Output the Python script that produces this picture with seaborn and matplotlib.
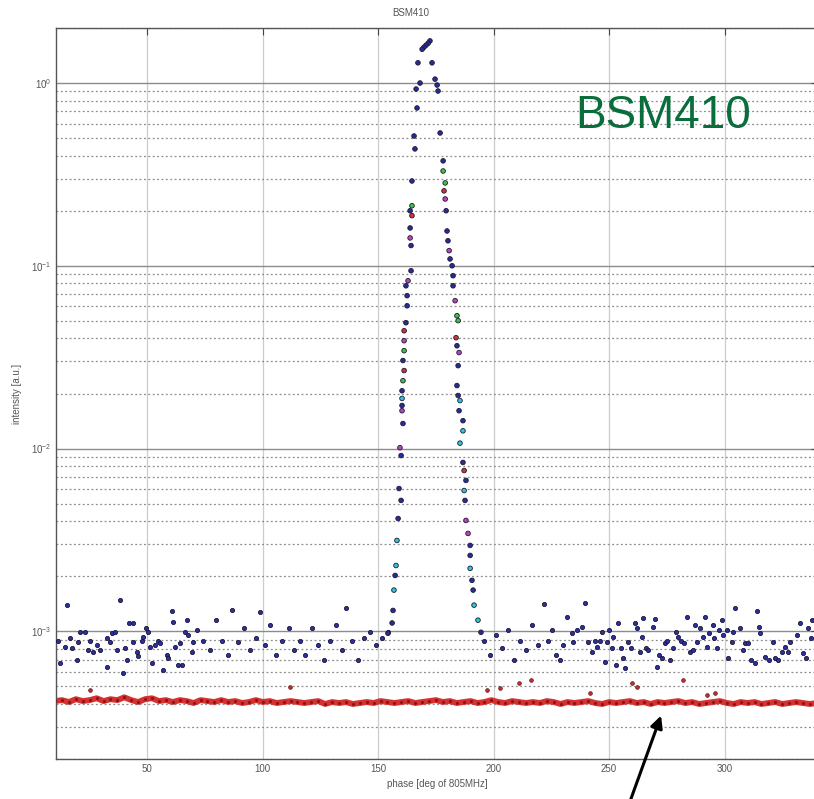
import numpy as np
import pandas as pd
import seaborn as sns
import matplotlib.pyplot as plt
from matplotlib.ticker import LogLocator, NullFormatter

# background (off-bunch) points, phase in deg, intensity in 1e-4 a.u.
bg_phase = [11.3, 12.1, 14.3, 15.2, 16.5, 17.3, 19.5, 19.9, 20.8, 23.0, 24.3, 25.1, 26.4, 28.2,
            29.5, 32.5, 32.5, 33.8, 34.7, 36.0, 36.8, 38.1, 39.4, 40.3, 41.2, 42.0, 43.8, 43.8,
            45.5, 45.9, 47.7, 48.1, 49.4, 50.3, 51.1, 52.0, 53.3, 54.6, 55.5, 56.8, 58.5, 58.9,
            60.7, 61.1, 62.0, 63.3, 64.1, 65.0, 66.3, 67.2, 67.6, 69.3, 69.8, 71.5,
            74.1, 77.1, 79.7, 82.3, 84.9, 86.7, 89.3, 91.9, 94.5, 97.1, 98.8, 101.0, 103.1,
            105.7, 108.3, 111.4, 113.5, 116.1, 118.3, 121.3, 123.9, 126.5, 129.1, 131.7, 134.3,
            136.0, 138.6, 141.2, 143.8, 146.4, 149.0, 151.6, 154.2,
            195.8, 198.4, 201.0, 203.6, 206.2, 208.8, 211.4, 214.0, 216.6, 219.2, 221.8, 223.6,
            225.3, 227.0, 228.8, 230.1, 231.8, 234.0, 234.4, 236.1, 238.3, 239.6, 240.9, 242.6,
            243.9, 244.8, 246.1, 247.0, 248.3, 249.1, 250.0, 251.3, 251.7, 253.0, 253.9, 255.2,
            256.1, 256.9, 258.2, 259.5, 261.3, 262.1, 263.4, 264.3, 264.7, 266.0, 266.9, 269.1,
            269.9, 270.8, 271.7, 273.0, 274.3, 275.1, 276.4, 277.7, 279.0, 279.9, 281.2, 282.5,
            283.8, 285.1, 286.4, 287.3, 288.1, 289.4, 290.7, 291.6, 292.5, 293.3, 295.1, 295.5,
            296.8, 297.7, 299.0, 299.4, 301.1, 301.6, 303.3, 303.7, 304.6, 306.8, 308.1, 308.9,
            310.2, 311.5, 313.3, 314.1, 315.0, 315.4, 317.6, 319.3, 321.1, 321.9, 323.2, 325.0,
            326.3, 327.6, 328.4, 331.5, 332.8, 334.1, 335.4, 336.2, 337.5, 338.0]
bg_int = [8.9, 6.7, 8.2, 13.9, 9.2, 8.1, 6.95, 8.7, 9.9, 9.9, 7.9, 8.9, 7.7, 8.4,
          7.9, 9.2, 6.4, 8.7, 9.8, 9.9, 7.9, 14.8, 5.9, 8.1, 6.95, 11.1, 11.1, 8.7,
          7.7, 7.3, 8.9, 9.3, 10.4, 9.9, 8.2, 6.7, 8.4, 8.9, 8.6, 6.1, 7.4, 7.1,
          12.9, 11.2, 8.2, 6.5, 8.6, 6.5, 9.9, 11.5, 9.5, 7.7, 8.7, 10.1,
          8.9, 7.9, 11.5, 8.9, 7.4, 13.0, 8.7, 10.4, 7.9, 9.2, 12.7, 8.4, 10.8,
          7.4, 8.9, 10.4, 7.9, 8.9, 7.4, 10.4, 8.4, 6.95, 8.9, 10.8, 7.9,
          13.4, 8.9, 6.95, 9.2, 9.9, 8.4, 9.2, 9.9,
          8.9, 7.4, 9.5, 8.1, 10.1, 6.95, 8.9, 7.9, 10.8, 8.4, 14.1, 8.9,
          10.1, 7.4, 6.95, 8.4, 11.9, 9.8, 8.7, 10.1, 10.5, 14.3, 8.7, 7.7,
          8.9, 8.2, 8.9, 9.9, 6.8, 8.7, 10.1, 8.1, 9.3, 6.5, 11.1, 8.1,
          7.1, 6.3, 8.7, 8.1, 11.1, 10.4, 7.7, 9.3, 11.8, 8.1, 7.9, 10.5,
          11.6, 6.4, 7.4, 7.1, 8.6, 8.9, 6.95, 8.1, 9.9, 9.3, 8.9, 8.6,
          11.9, 7.7, 7.9, 10.8, 8.7, 10.4, 9.3, 11.9, 8.2, 9.8, 10.8, 9.2,
          8.1, 10.1, 11.5, 9.5, 10.1, 7.1, 8.7, 9.9, 13.4, 10.4, 7.9, 8.6,
          8.6, 6.95, 6.7, 12.9, 10.5, 9.8, 7.2, 6.95, 8.7, 7.1, 6.95, 7.7,
          8.2, 7.7, 8.7, 9.5, 11.1, 7.6, 7.1, 10.4, 9.2, 11.5]

# bunch (peak) points, intensity in a.u., colour per shot
peak_phase = [172.4, 171.6, 170.7, 169.8, 169.0, 167.2, 168.1, 166.4, 166.8, 165.5, 165.9,
              164.6, 164.6, 163.8, 164.6, 163.8, 163.8, 164.2, 164.2, 162.9, 162.0, 162.5,
              162.5, 162.0, 161.2, 161.2, 161.2, 160.7, 161.2, 160.7, 160.3, 160.3, 160.3,
              160.3, 160.7, 159.4, 159.9, 159.0, 159.9, 158.6, 158.1, 157.7, 157.3, 156.8,
              156.4, 156.0, 154.2,
              173.3, 174.6, 175.5, 175.9, 176.8, 178.1, 178.1, 179.0, 178.5, 179.0, 179.4,
              179.8, 180.2, 180.7, 181.1, 182.0, 182.4, 182.4, 183.3, 184.1, 184.6, 183.7,
              184.1, 185.0, 184.6, 184.1, 184.6, 185.4, 185.0, 186.7, 186.7, 185.4, 186.7,
              187.2, 188.0, 187.2, 187.6, 188.0, 188.9, 189.8, 189.8, 189.8, 190.6, 191.1,
              191.5, 193.2, 194.5]
peak_int = [1.70, 1.65, 1.61, 1.57, 1.53, 1.29, 1.0, 0.927, 0.73, 0.513, 0.436,
            0.291, 0.213, 0.2, 0.188, 0.161, 0.142, 0.129, 0.0939, 0.0828, 0.0777, 0.0686,
            0.0604, 0.0488, 0.0441, 0.0389, 0.0343, 0.0303, 0.0267, 0.0235, 0.0207, 0.0188, 0.0172,
            0.0161, 0.0137, 0.0101, 0.00915, 0.00604, 0.0052, 0.00414, 0.00314, 0.00229, 0.00202, 0.00168,
            0.0013, 0.00111, 0.000975,
            1.29, 1.05, 0.975, 0.904, 0.533, 0.375, 0.33, 0.284, 0.257, 0.232, 0.2,
            0.155, 0.137, 0.121, 0.109, 0.1, 0.0882, 0.0777, 0.0644, 0.0533, 0.0501, 0.0404,
            0.0365, 0.0335, 0.0284, 0.0221, 0.0195, 0.0183, 0.0161, 0.0142, 0.0125, 0.0107, 0.00839,
            0.00758, 0.00669, 0.00589, 0.0052, 0.00404, 0.00343, 0.00295, 0.0026, 0.00221, 0.0019, 0.00168,
            0.00139, 0.00115, 0.000987]
peak_shot = list("bbbbbbbbbbbbgbrbmbbmbbbbrmgbrgbcbmbmbbbbccbcbbb"
                 "bbbbbbggrmbbbmbbbbmggrbmbbbcbbccbrbcbmmbbcbbccb")

# red trace (other monitor), phase grid 10..340 deg, intensity in 1e-4 a.u.
red_phase = np.arange(10, 341, 3)
red_int = [4.15, 4.2, 4.1, 4.25, 4.15, 4.2, 4.3, 4.15, 4.25, 4.2, 4.35, 4.2, 4.1, 4.25, 4.3,
           4.15, 4.2, 4.1, 4.2, 4.15, 4.05, 4.2, 4.15, 4.1, 4.2, 4.1, 4.15, 4.05, 4.1, 4.2,
           4.1, 4.15, 4.05, 4.1, 4.15, 4.1, 4.05, 4.1, 4.15, 4.0, 4.1, 4.05, 4.1, 4.0, 4.05,
           4.1, 4.05, 4.15, 4.1, 4.05, 4.1, 4.15, 4.05, 4.1, 4.15, 4.2, 4.1, 4.15, 4.05, 4.1,
           4.15, 4.05, 4.1, 4.2, 4.1, 4.05, 4.15, 4.1, 4.05, 4.1, 4.05, 4.15, 4.1, 4.0, 4.1,
           4.05, 4.1, 4.15, 4.05, 4.0, 4.1, 4.05, 4.1, 4.15, 4.05, 4.1, 4.0, 4.1, 4.05, 4.1,
           4.15, 4.05, 4.1, 4.0, 4.05, 4.1, 4.15, 4.05, 4.0, 4.1, 4.05, 4.1, 4.0, 4.05, 4.1,
           4.0, 4.05, 4.1, 4.05, 4.0, 4.05]
red_out_phase = [25.1, 111.8, 197.1, 202.8, 211.0, 216.2, 241.8, 260.0, 262.1, 282.1, 292.5, 295.9]
red_out_int = [4.76, 4.95, 4.76, 4.88, 5.2, 5.4, 4.6, 5.2, 4.95, 5.4, 4.47, 4.6]

bg = pd.DataFrame({"phase": bg_phase, "intensity": np.array(bg_int) * 1e-4})
peak = pd.DataFrame({"phase": peak_phase, "intensity": peak_int, "shot": peak_shot})
red = pd.DataFrame({"phase": red_phase, "intensity": np.array(red_int) * 1e-4})
red_out = pd.DataFrame({"phase": red_out_phase, "intensity": np.array(red_out_int) * 1e-4})

sns.set_theme(style="white")
plt.rcParams['font.family'] = ['Liberation Sans', 'DejaVu Sans']

fig = plt.figure(figsize=(8.14, 7.99), dpi=100)
# right edge of the axes is cut off by the picture, as in the screenshot
ax = fig.add_axes([56 / 814, 1 - 759 / 799, 762 / 814, 731 / 799])
ax.set_yscale("log")
ax.set_xlim(10.4, 340.5)
ax.set_ylim(2e-4, 2)

# MATLAB-ish grid
ax.grid(True, which="major", axis="y", color="#8c8c8c", lw=1.0, ls="-")
ax.grid(True, which="minor", axis="y", color="#8c8c8c", lw=0.9, ls=(0, (1.5, 2)))
ax.grid(True, which="major", axis="x", color="#cccccc", lw=0.9, ls="-")
ax.set_axisbelow(True)

sns.lineplot(data=red, x="phase", y="intensity", color="#d63030", lw=4.2, ax=ax, zorder=2)
sns.scatterplot(data=red, x="phase", y="intensity", color="#8c1414", s=5, lw=0, ax=ax, zorder=3)
sns.scatterplot(data=red_out, x="phase", y="intensity", color="#c83030", edgecolor="#5a1010",
                s=7, lw=0.5, ax=ax, zorder=3)
sns.scatterplot(data=bg, x="phase", y="intensity", color="#2f2fa0", edgecolor="#15153a",
                s=9, lw=0.6, ax=ax, zorder=4)
shot_colors = {"b": "#2a2a9a", "g": "#3fc23f", "c": "#2cc8d8", "r": "#d43030", "m": "#c040c0"}
sns.scatterplot(data=peak, x="phase", y="intensity", hue="shot", palette=shot_colors,
                edgecolor="#1a1a30", s=11, lw=0.6, ax=ax, zorder=5, legend=False)

ax.set_xticks([50, 100, 150, 200, 250, 300])
ax.yaxis.set_major_locator(LogLocator(base=10, numticks=10))
ax.yaxis.set_minor_locator(LogLocator(base=10, subs=np.arange(2, 10), numticks=20))
ax.yaxis.set_minor_formatter(NullFormatter())
ax.tick_params(axis="both", which="both", direction="in", top=True, right=True,
               labelsize=7, labelcolor="#555555", color="#444444")
ax.tick_params(axis="both", which="major", length=5, width=0.8)
ax.tick_params(axis="y", which="minor", length=3, width=0.6)
for s in ax.spines.values():
    s.set_color("#555555")
    s.set_linewidth(1.0)

ax.set_xlabel("phase [deg of 805MHz]", fontsize=7, color="#555555", labelpad=4)
ax.set_ylabel("intensity [a.u.]", fontsize=7, color="#555555", labelpad=6)
fig.text(411 / 814, 1 - 13 / 799, "BSM410", fontsize=7, color="#555555", ha="center", va="center")

fig.text(575 / 814, 1 - 128 / 799, "BSM410", fontsize=33, color="#0a6e3c",
         ha="left", va="baseline")
ax.annotate("", xy=(662 / 814, 1 - 713 / 799), xycoords="figure fraction",
            xytext=(628 / 814, -0.01), textcoords="figure fraction",
            arrowprops=dict(arrowstyle="-|>", color="black", lw=2.2, mutation_scale=18),
            annotation_clip=False)

fig.savefig("out.png", dpi=100)
